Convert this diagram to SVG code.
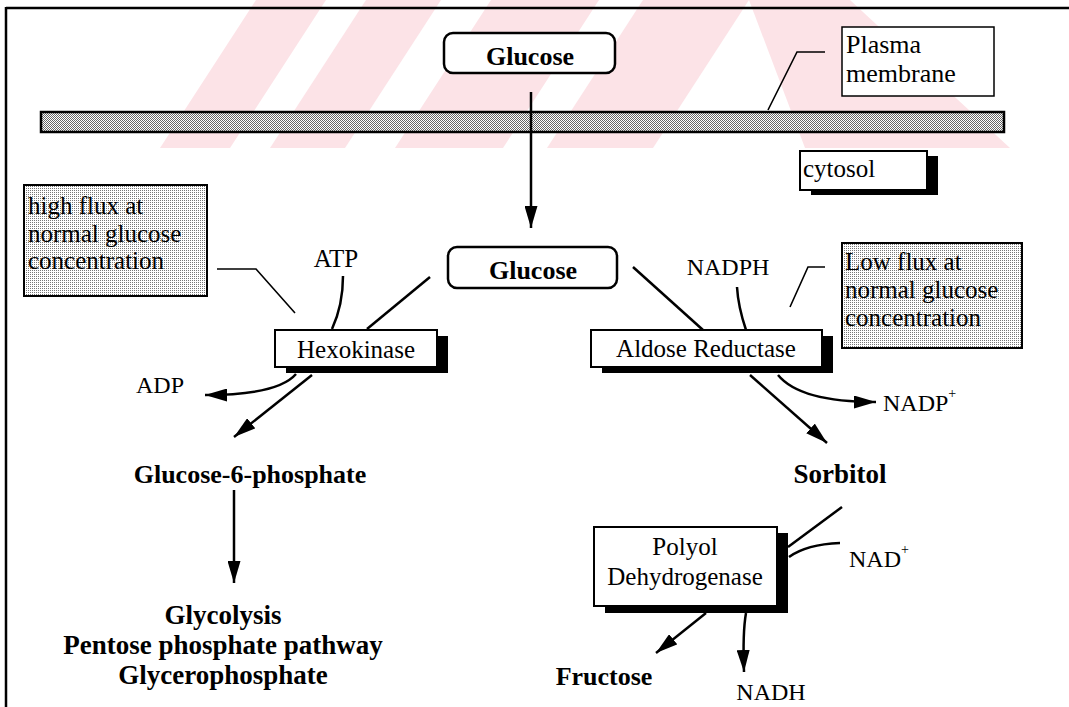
<svg xmlns="http://www.w3.org/2000/svg" width="1069" height="707" viewBox="0 0 1069 707">
<defs>
<style>
.t{font-family:"Liberation Serif","Times New Roman",serif;fill:#000}
.b{font-weight:bold}
.ln{fill:none;stroke:#000;stroke-width:2.5}
.thin{fill:none;stroke:#000;stroke-width:1.6}
.box{fill:#fff;stroke:#000;stroke-width:2}
.rbox{fill:#fff;stroke:#000;stroke-width:2.5}
.sh{fill:#000}
.wm{fill:#fce3e7}
</style>
<pattern id="dense" width="2" height="2" patternUnits="userSpaceOnUse"><rect width="2" height="2" fill="#fff"/><rect width="1" height="1" fill="#666"/><rect x="1" y="1" width="1" height="1" fill="#666"/></pattern>
<pattern id="light" width="2" height="2" patternUnits="userSpaceOnUse"><rect width="2" height="2" fill="#fff"/><rect width="1" height="1" fill="#777"/></pattern>
<marker id="ah" viewBox="0 0 22 13" refX="22" refY="6.5" markerWidth="22" markerHeight="13" orient="auto" markerUnits="userSpaceOnUse"><path d="M0,0 L22,6.5 L0,13 z" fill="#000"/></marker>
</defs>
<rect width="1069" height="707" fill="#fff"/>
<g id="watermark">
<polygon class="wm" points="160,148 230,148 326,0 256,0"/>
<polygon class="wm" points="270,148 345,148 441,0 366,0"/>
<polygon class="wm" points="395,148 503,148 599,0 491,0"/>
<polygon class="wm" points="547,148 653,148 749,0 643,0"/>
<polygon class="wm" points="749,0 850,0 1010,148 805,148"/>
</g>
<g id="frame">
<line x1="6" y1="8" x2="1069" y2="8" stroke="#000" stroke-width="2.5"/>
<line x1="6" y1="7" x2="6" y2="707" stroke="#000" stroke-width="2.5"/>
</g>
<g id="membrane">
<rect x="41" y="112" width="963" height="20" fill="url(#dense)" stroke="#000" stroke-width="2.5"/>
</g>
<g id="connectors">
<path class="ln" d="M531,92 L531,228" marker-end="url(#ah)"/>
<path class="thin" d="M768,110 L797,52 L825,52"/>
<path class="thin" d="M217,269 L256,269 L295,313"/>
<path class="ln" d="M343,276 C343,300 338,316 332,329"/>
<path class="ln" d="M430,277 L367,329"/>
<path class="ln" d="M296,374 Q278,395 205,395" marker-end="url(#ah)"/>
<path class="ln" d="M312,375 L234,437" marker-end="url(#ah)"/>
<path class="ln" d="M234,490 L234,583" marker-end="url(#ah)"/>
<path class="ln" d="M633,267 L703,330"/>
<path class="ln" d="M737,287 C738,305 742,318 746,330"/>
<path class="thin" d="M790,307 L808,267 L825,267"/>
<path class="ln" d="M750,375 L827,443" marker-end="url(#ah)"/>
<path class="ln" d="M778,375 Q800,402 876,402" marker-end="url(#ah)"/>
<path class="ln" d="M842,507 L788,547"/>
<path class="ln" d="M840,543 C815,544 800,549 789,557"/>
<path class="ln" d="M706,613 L656,653" marker-end="url(#ah)"/>
<path class="ln" d="M746,613 C743,630 743,645 744,672" marker-end="url(#ah)"/>
</g>
<g id="glucose-out">
<rect class="rbox" x="444" y="33" width="171" height="40" rx="9"/>
<text class="t b" x="530" y="65" font-size="26" text-anchor="middle">Glucose</text>
</g>
<g id="plasma-label">
<rect x="842" y="27" width="152" height="69" fill="#fff" stroke="#000" stroke-width="1.5"/>
<text class="t" x="846" y="53" font-size="26">Plasma</text>
<text class="t" x="846" y="82" font-size="26">membrane</text>
</g>
<g id="cytosol">
<rect class="sh" x="811" y="156" width="127" height="39"/>
<rect class="box" x="800" y="151" width="127" height="39"/>
<text class="t" x="803" y="177" font-size="25">cytosol</text>
</g>
<g id="high-flux">
<rect x="24" y="185" width="183" height="111" fill="url(#light)" stroke="#000" stroke-width="2"/>
<text class="t" x="28" y="214" font-size="25">high flux at</text>
<text class="t" x="28" y="242" font-size="25">normal glucose</text>
<text class="t" x="28" y="269" font-size="25">concentration</text>
</g>
<g id="atp"><text class="t" x="336" y="267" font-size="25" text-anchor="middle">ATP</text></g>
<g id="glucose-in">
<rect class="rbox" x="448" y="247" width="169" height="41" rx="9"/>
<text class="t b" x="533" y="279" font-size="26" text-anchor="middle">Glucose</text>
</g>
<g id="nadph"><text class="t" x="728" y="275" font-size="24" text-anchor="middle">NADPH</text></g>
<g id="low-flux">
<rect x="842" y="243" width="180" height="105" fill="url(#light)" stroke="#000" stroke-width="2"/>
<text class="t" x="845" y="270" font-size="25">Low flux at</text>
<text class="t" x="845" y="298" font-size="25">normal glucose</text>
<text class="t" x="845" y="326" font-size="25">concentration</text>
</g>
<g id="hexokinase">
<rect class="sh" x="286" y="336" width="162" height="37"/>
<rect class="box" x="275" y="330" width="162" height="37"/>
<text class="t" x="356" y="358" font-size="25" text-anchor="middle">Hexokinase</text>
</g>
<g id="aldose-reductase">
<rect class="sh" x="602" y="336" width="231" height="37"/>
<rect class="box" x="591" y="330" width="231" height="37"/>
<text class="t" x="706" y="357" font-size="25" text-anchor="middle">Aldose Reductase</text>
</g>
<g id="adp"><text class="t" x="136" y="393" font-size="24">ADP</text></g>
<g id="nadp"><text class="t" x="883" y="411" font-size="24">NADP<tspan font-size="14" dy="-13">+</tspan></text></g>
<g id="g6p"><text class="t b" x="250" y="483" font-size="26" text-anchor="middle">Glucose-6-phosphate</text></g>
<g id="sorbitol"><text class="t b" x="840" y="483" font-size="27" text-anchor="middle">Sorbitol</text></g>
<g id="polyol-dh">
<rect class="sh" x="605" y="533" width="183" height="80"/>
<rect class="box" x="594" y="527" width="183" height="79"/>
<text class="t" x="685" y="555" font-size="25" text-anchor="middle">Polyol</text>
<text class="t" x="685" y="585" font-size="25" text-anchor="middle">Dehydrogenase</text>
</g>
<g id="nad"><text class="t" x="849" y="567" font-size="24">NAD<tspan font-size="14" dy="-13">+</tspan></text></g>
<g id="outputs">
<text class="t b" x="223" y="624" font-size="27" text-anchor="middle">Glycolysis</text>
<text class="t b" x="223" y="654" font-size="27" text-anchor="middle">Pentose phosphate pathway</text>
<text class="t b" x="223" y="684" font-size="27" text-anchor="middle">Glycerophosphate</text>
</g>
<g id="fructose"><text class="t b" x="604" y="685" font-size="26" text-anchor="middle">Fructose</text></g>
<g id="nadh"><text class="t" x="771" y="700" font-size="24" text-anchor="middle">NADH</text></g>
</svg>
